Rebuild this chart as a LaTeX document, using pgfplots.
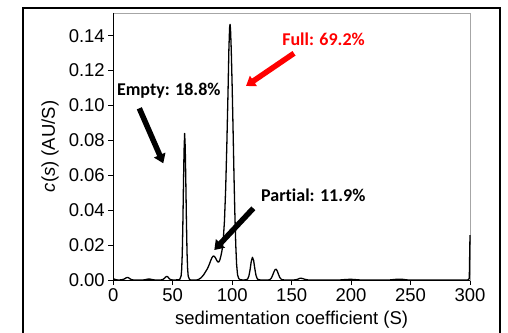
\documentclass[border=0pt]{standalone}
\usepackage{fontspec}
\setmainfont{Liberation Sans}
\newfontfamily\calb{Carlito}[Ligatures={NoCommon}]
\usepackage{pgfplots}
\pgfplotsset{compat=1.18}
\usetikzlibrary{arrows.meta}

\pgfplotstableread{
x y
0 0.0006
1 0.0005
2 0.0002
4 0.0000
7 0.0001
9 0.0005
10 0.0009
11 0.0013
12 0.0015
13 0.0012
14 0.0007
15 0.0003
17 0.0000
25 0.0000
27 0.0002
29 0.0005
31 0.0005
33 0.0002
35 0.0000
40 0.0000
42 0.0004
43 0.0010
44 0.0017
45 0.0021
46 0.0017
47 0.0008
48 0.0003
50 0.0000
55 0.0001
56 0.0005
57 0.0022
57.5 0.0060
58 0.0150
58.5 0.0320
59 0.0540
59.5 0.0740
60 0.0840
60.5 0.0760
61 0.0560
61.5 0.0340
62 0.0160
62.5 0.0065
63 0.0022
64 0.0005
65 0.0000
70 0.0000
72 0.0004
74 0.0014
76 0.0030
78 0.0052
79 0.0063
80 0.0077
81 0.0094
82 0.0113
83 0.0128
84 0.0137
85 0.0136
86 0.0126
87 0.0112
88 0.0103
88.8 0.0104
89.6 0.0115
90.5 0.0138
91.5 0.0172
92.5 0.0232
93.5 0.0340
94.5 0.0520
95.5 0.0780
96.5 0.1080
97.2 0.1320
97.8 0.1445
98.2 0.1465
98.6 0.1435
99.2 0.1320
100 0.1100
100.8 0.0840
101.5 0.0600
102.2 0.0390
103 0.0200
103.7 0.0090
104.5 0.0030
105.5 0.0008
107 0.0001
110 0.0000
112 0.0002
113 0.0006
114 0.0022
115 0.0057
116 0.0105
117 0.0130
118 0.0113
119 0.0066
120 0.0027
121 0.0008
122 0.0002
124 0.0000
130 0.0000
131 0.0001
132 0.0004
133 0.0012
134 0.0027
135 0.0045
136 0.0059
137 0.0062
138 0.0050
139 0.0031
140 0.0015
141 0.0006
142 0.0002
144 0.0000
152 0.0000
155 0.0004
157 0.0010
159 0.0009
161 0.0004
164 0.0000
190 0.0000
196 0.0003
200 0.0004
204 0.0002
208 0.0000
232 0.0000
238 0.0004
243 0.0004
248 0.0000
298 0.0000
299.4 0.0008
300 0.0257
}\cdata

\begin{document}
\begin{tikzpicture}
\useasboundingbox (0pt,0pt) rectangle (508pt,332pt);
\begin{axis}[
  at={(113.3pt,52pt)}, anchor=south west,
  scale only axis, width=356.7pt, height=267pt,
  xmin=0, xmax=300, ymin=0, ymax=0.153,
  xtick={0,50,100,150,200,250,300},
  ytick={0,0.02,0.04,0.06,0.08,0.10,0.12,0.14},
  xtick pos=left, ytick pos=left,
  tick align=outside, major tick length=5pt,
  tick style={black, line width=0.8pt},
  axis line style={draw=gray!70, line width=0.8pt},
  /pgf/number format/assume math mode=true,
  ticklabel style={font=\fontsize{18.5}{20}\selectfont},
  yticklabel style={/pgf/number format/.cd, fixed, fixed zerofill, precision=2},
  xticklabel style={/pgf/number format/.cd, fixed, precision=0},
  scaled y ticks=false,
  label style={font=\fontsize{18.5}{20}\selectfont},
  xlabel={sedimentation coefficient (S)},
  xlabel style={at={(axis description cs:0.5,0)}, anchor=center, yshift=-40pt},
  ylabel={\textit{c}(\textit{s}) (AU/S)},
  ylabel style={at={(axis description cs:-0.1775,0.5)}, anchor=center},
  clip=false,
]
\addplot[black, line width=1.3pt, line join=round] table[x=x,y=y] {\cdata};
\draw[black, line width=1pt] (rel axis cs:0,1) -- (rel axis cs:0,0) -- (rel axis cs:1,0);
\end{axis}
\draw[line width=2pt] (22.5pt,-10pt) -- (22.5pt,324pt) -- (499.8pt,324pt) -- (499.8pt,-10pt);
\tikzset{ann/.style={font=\calb\bfseries\fontsize{18}{20}\selectfont, inner sep=0pt}}
\node[ann] at (168.8pt,241.3pt) {Empty: 18.8\%};
\node[ann] at (313.3pt,136.3pt) {Partial: 11.9\%};
\node[ann, text=red] at (323.5pt,293pt) {Full: 69.2\%};
\draw[line width=5.5pt, -{Triangle[length=9pt,width=12pt]}] (139.3pt,223.7pt) -- (163.3pt,168.7pt);
\draw[line width=5.5pt, -{Triangle[length=9pt,width=12pt]}] (253.3pt,123.7pt) -- (214.3pt,82pt);
\draw[red, line width=5.5pt, -{Triangle[length=9pt,width=12pt]}] (294pt,278.7pt) -- (246pt,246pt);
\end{tikzpicture}
\end{document}
